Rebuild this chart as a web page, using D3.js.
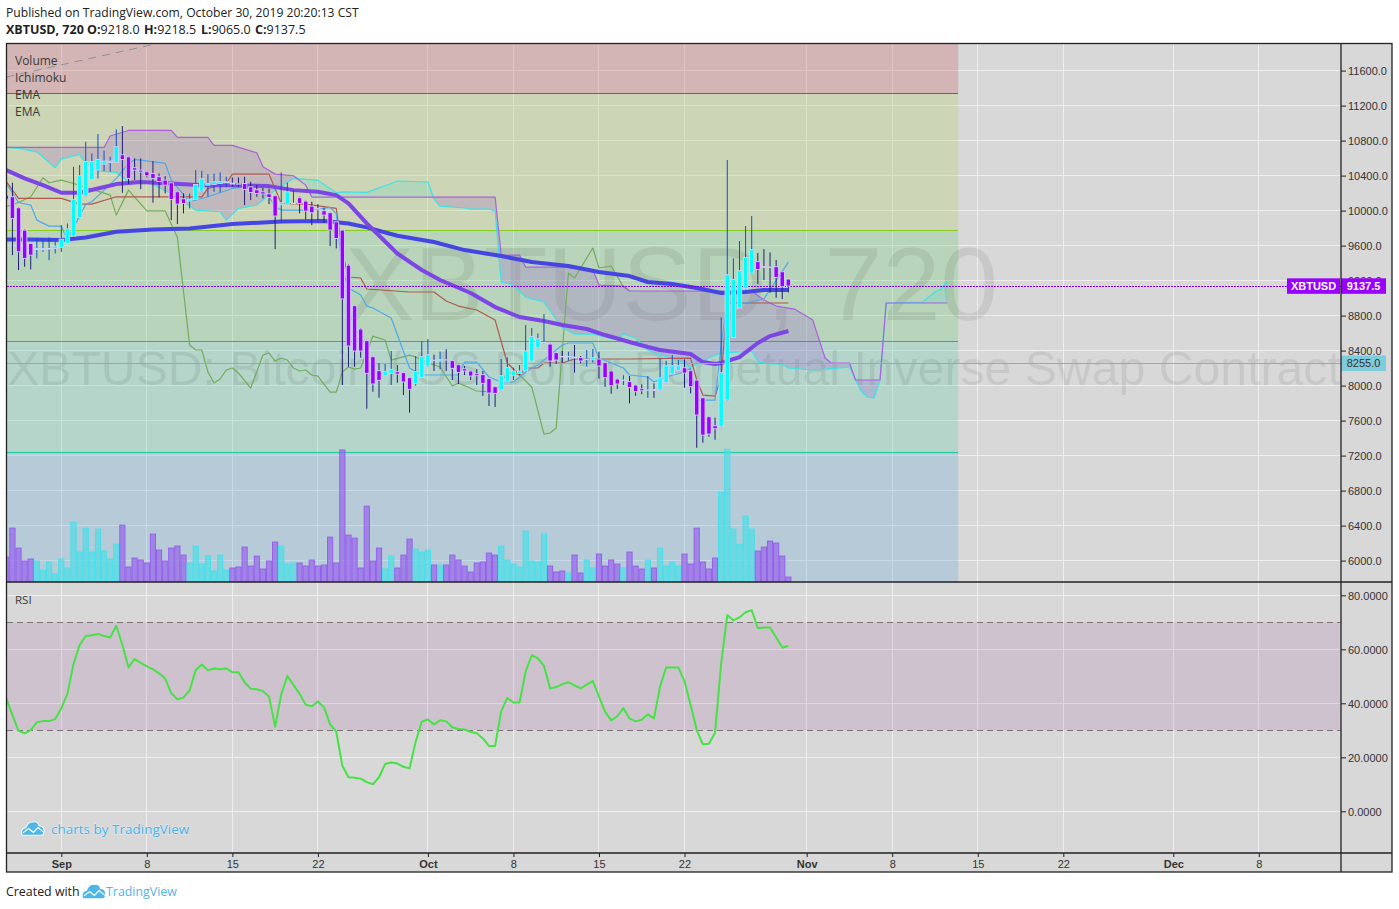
<!DOCTYPE html>
<html>
<head>
<meta charset="utf-8">
<title>XBTUSD, 720</title>
<script src="https://cdn.jsdelivr.net/npm/d3@7"></script>
<style>
html,body{margin:0;padding:0;background:#fff;}
svg{display:block;}
</style>
</head>
<body>
<div id="chart"></div>
<script>
//1. data (bar 0 is the half hidden candle at the left edge, one bar = 12h)
const opens=[
	10175,10158,10032,9777,9625,9556,9553,9560,9568,9579,
	9625,9709,9922,10166,10356,10463,10531,10551,10551,10638,
	10615,10490,10463,10444,10425,10387,10349,10318,10215,10135,
	10109,10128,10223,10291,10299,10310,10318,10314,10306,10310,
	10272,10238,10215,10192,10170,10067,10074,10080,10147,10109,
	10051,10025,9998,9975,9872,9777,9377,
	8913,8647,8513,8330,8170,8117,8140,8159,8148,8090,
	8022,8094,8224,8290,8281,8295,8285,8239,8193,8167,
	8136,8125,8079,7987,7949,8041,8117,8140,8167,8281,
	8433,8487,8475,8376,8332,8328,8326,8319,8298,8296,
	8304,8262,8167,8075,8058,8045,
	8006,7964,7947,7955,7949,8033,8132,8174,8204,8170,
	8063,7861,7644,7541,7530,7834,8551,8886,9107,9286,
	9416,9362,9356,9358,9301,9218
];
const highs=[
	10320,10318,10040,9785,9630,9682,9663,9693,9644,9834,
	9853,10501,10520,10787,10653,10874,10684,10615,10928,10966,
	10620,10596,10596,10450,10566,10425,10394,10325,10220,10196,
	10196,10463,10455,10417,10425,10436,10387,10379,10379,10387,
	10330,10291,10261,10253,10175,10436,10318,10234,10158,10115,
	10101,10074,10032,9980,9880,9780,9385,
	8920,8655,8520,8335,8254,8247,8395,8235,8155,8095,
	8338,8509,8532,8353,8388,8414,8290,8245,8224,8172,
	8189,8167,8085,7992,8304,8323,8205,8235,8692,8658,
	8597,8818,8480,8380,8395,8388,8464,8338,8407,8418,
	8388,8268,8172,8080,8117,8109,
	8010,8014,8109,8025,8311,8284,8349,8292,8299,8175,
	8068,7866,7650,7633,8779,10578,9454,9652,9823,9938,
	9515,9560,9522,9435,9305,9218.5
];
const lows=[
	9900,9491,9320,9358,9328,9453,9529,9434,9510,9529,
	9620,9700,9915,10160,10350,10368,10451,10444,10545,10204,
	10303,10349,10246,10379,10090,10150,10196,9891,9846,9968,
	10025,10120,10215,10158,10215,10208,10272,10272,10272,10063,
	10120,10158,10139,10074,9560,9861,10070,10074,9968,9899,
	9834,9891,9861,9594,9568,8007,8216,
	8216,8319,7736,7930,7862,8110,8007,8033,7892,7690,
	7999,8090,8216,8167,8186,8167,8064,8018,8121,8064,
	8007,7881,7767,7755,7945,8036,8064,8121,8160,8275,
	8428,8480,8216,8247,8262,8285,8148,8254,8216,8262,
	8079,7987,7907,7961,8007,7797,
	7884,7903,7861,7861,7945,8028,8128,8170,7975,7911,
	7290,7347,7415,7381,7525,7828,8546,8880,9100,9280,
	9160,9206,9061,9004,8989,9065
];
const closes=[
	10130,9910,9529,9453,9491,9568,9568,9568,9594,9674,
	9792,10128,10398,10562,10562,10585,10566,10566,10730,10585,
	10368,10463,10440,10398,10368,10333,10291,10128,10074,10082,
	10131,10299,10364,10310,10330,10330,10330,10303,10302,10242,
	10208,10196,10189,10150,9937,10090,10215,10085,10082,9994,
	9975,10010,9949,9777,9682,8990,8452,
	8395,8395,8140,8018,8060,8163,8186,8132,8041,7957,
	8159,8330,8353,8288,8296,8292,8197,8151,8167,8109,
	8113,8026,7915,7911,8113,8205,8167,8167,8395,8563,
	8536,8494,8281,8292,8328,8332,8316,8281,8302,8319,
	8224,8090,7999,8018,8063,7976,
	7930,7941,7950,7945,8090,8227,8227,8227,8143,7987,
	7663,7434,7446,7507,8147,9267,9214,9313,9465,9553,
	9328,9350,9350,9237,9130,9137.5
];
const volumes=[
	75,162,102,63,69,63,36,60,24,69,
	42,180,90,162,90,159,93,69,114,171,
	45,72,66,57,144,96,63,102,108,81,
	57,108,54,78,33,81,36,42,45,105,
	48,78,39,63,120,108,54,57,57,48,
	66,48,51,135,57,397,141,132,42,228,
	63,102,39,78,42,81,129,99,90,96,
	51,51,51,81,66,48,30,57,60,87,
	81,108,66,54,45,153,63,60,144,48,
	30,33,27,81,27,66,42,84,48,66,
	54,42,90,48,39,66,42,102,48,60,
	48,84,54,162,60,39,72,270,399,159,
	114,198,159,93,105,123,117,78,15
];
const rsiValues=[
	41.8,35.6,29.8,28.9,30.1,33.0,33.4,33.4,34.2,38.1,
	43.5,54.5,61.6,64.9,65.2,65.7,64.9,64.4,68.7,61.6,
	53.3,56.4,55.0,53.7,52.6,51.1,49.2,43.7,41.5,42.1,
	44.8,52.3,54.4,52.2,52.9,52.6,52.9,51.5,51.5,47.8,
	45.4,45.2,44.5,42.5,31.3,43.3,50.1,46.8,43.5,39.5,
	38.9,40.7,38.5,32.2,29.5,16.9,12.6,12.4,12.1,10.8,
	10.0,12.6,17.5,18.1,17.7,16.5,15.9,25.8,33.2,34.0,
	32.2,33.7,33.3,31.1,30.5,30.3,29.4,28.9,27.0,24.2,
	24.2,37.1,42.0,40.3,40.3,51.7,57.8,56.6,53.9,45.5,
	46.0,47.1,47.8,46.6,45.5,46.9,48.2,42.5,36.9,33.7,
	35.2,38.2,34.4,33.3,33.9,35.9,34.4,46.2,53.3,53.3,
	53.3,48.2,39.4,30.1,24.8,25.0,29.1,54.8,72.7,70.7,
	71.8,73.7,74.5,67.8,68.1,68.1,64.4,60.7,61.2
];

//indicator lines: [bar, price] at the places where the line bends
const emaFast=[[0,10463],[3,10368],[6,10291],[9,10204],[12,10204],[15,10253],[18,10303],[22,10326],[27,10310],[32,10291],[37,10291],[43,10280],[47,10234],[51,10215],[54,10177],[56,10082],[59,9853],[64,9510],[68,9321],[71,9207],[76,9058],[80,8898],[84,8784],[88,8738],[91,8692],[95,8647],[98,8578],[102,8498],[105,8441],[107,8407],[112,8361],[114,8269],[116,8247],[117,8258],[120,8326],[123,8487],[125,8566],[128,8624]];
const emaSlow=[[0,9670],[4,9670],[9,9663],[13,9693],[18,9758],[24,9785],[30,9796],[37,9846],[45,9876],[52,9880],[56,9853],[59,9808],[64,9713],[70,9641],[75,9549],[81,9481],[86,9412],[92,9367],[97,9298],[102,9252],[105,9184],[109,9161],[113,9115],[117,9058],[121,9070],[124,9092],[128,9092]];
const tenkan=[[0,10310],[2,10093],[4,10063],[5,9891],[7,9823],[9,9823],[10,9663],[13,10074],[14,10101],[16,10234],[18,10368],[20,10539],[21,10585],[26,10539],[27,10349],[30,10101],[33,10158],[37,10253],[39,10272],[43,10158],[44,10044],[45,10006],[50,10006],[53,10036],[54,9968],[55,9321],[56,9115],[58,9035],[59,8909],[60,8887],[63,8772],[66,8201],[68,8121],[74,8121],[75,8269],[77,8269],[79,8098],[81,8041],[83,8041],[85,8155],[87,8235],[91,8464],[92,8487],[96,8487],[97,8315],[101,8201],[102,8121],[105,8098],[106,8041],[108,8098],[111,8155],[112,8201],[113,7835],[116,7835],[117,8464],[118,8944],[121,8944],[124,8990],[128,9412]];
const kijun=[[0,10330],[2,10139],[9,10139],[12,10074],[14,10074],[18,10158],[26,10158],[32,10158],[33,10253],[36,10310],[37,10417],[43,10417],[45,10082],[49,10074],[54,10025],[55,9515],[56,9241],[58,9230],[59,9104],[66,9070],[70,9070],[72,8967],[74,8909],[77,8864],[80,8749],[82,8258],[84,8121],[85,8201],[87,8201],[88,8258],[91,8258],[93,8304],[102,8304],[112,8315],[113,8064],[114,7892],[116,7880],[117,8098],[118,8944],[128,8944]];
const chikou=[[0,10044],[2,10093],[4,10158],[6,10375],[7,10318],[9,10349],[11,10310],[15,10223],[17,10177],[18,9949],[20,10234],[23,9998],[26,9998],[28,9693],[30,8464],[31,8407],[32,8407],[33,8155],[34,8029],[35,8075],[36,8178],[37,8201],[38,8144],[40,7972],[42,8349],[43,8372],[44,8281],[45,8315],[46,8292],[47,8201],[48,8167],[49,8178],[50,8121],[51,8109],[53,7926],[54,7926],[55,8155],[56,8212],[57,8189],[58,8201],[60,8566],[62,8521],[63,8292],[66,8349],[67,8327],[69,8258],[71,8212],[73,7995],[74,8029],[77,7938],[80,7926],[81,8029],[82,8155],[84,8121],[86,7984],[88,7446],[89,7458],[90,7515],[92,9287],[93,9230],[96,9572],[97,9344],[99,9367],[101,9127],[102,9081]];
const spanA=[[0,10722],[2,10711],[5,10672],[8,10490],[9,10589],[12,10642],[13,10539],[15,10455],[18,10436],[20,10330],[23,10330],[27,10196],[31,10006],[35,9987],[36,9891],[38,10025],[41,10063],[44,10234],[47,10368],[51,10345],[54,10204],[55,10215],[59,10208],[63,10310],[64,10338],[69,10327],[70,10132],[71,10052],[75,10030],[76,10018],[79,10018],[80,9995],[81,9184],[83,9149],[85,9012],[88,8955],[91,8658],[93,8589],[96,8589],[100,8521],[101,8589],[103,8544],[105,8407],[106,8372],[110,8292],[112,8212],[115,8315],[117,8372],[122,8395],[123,8269],[125,8247],[127,8247],[128,8201],[132,8178],[134,8189],[138,8212],[139,8064],[140,7927],[141,7869],[142,7858],[143,8064],[144,8944],[150,8955],[152,9069],[153,9104],[154,9184]];
const spanB=[[0,10722],[16,10722],[17,10852],[20,10916],[27,10916],[28,10836],[33,10836],[34,10745],[37,10745],[41,10661],[42,10501],[44,10417],[47,10398],[49,10291],[50,10155],[80,10155],[81,9492],[84,9492],[85,9355],[91,9355],[96,9321],[97,9149],[101,9138],[102,9081],[122,9080],[124,8978],[126,8909],[129,8875],[132,8749],[134,8315],[135,8258],[138,8258],[139,8064],[143,8064],[144,8944],[154,8944]];
const trendLine=[[0,11527],[24,11898]];

//fib levels and shaded bands
const fibLevels=[11340,9772,8506,7238];
const fibLineColors=["#b0493d","#86cc20","#35bb45","#20c89c"];
const fibBandColors=["rgb(203,99,99)","rgb(176,206,99)","rgb(110,203,116)","rgb(99,203,169)","rgb(103,173,213)"];
const fibEndBar=155.8;

const priceTicks=[11600,11200,10800,10400,10000,9600,9200,8800,8400,8000,7600,7200,6800,6400,6000];
const rsiTicks=[80,60,40,20,0];
const rsiBand=[70,30];
const timeTickBars=[9,23,37,51,69,83,97,111,131,145,159,173,191,205];
const timeTickLabels=["Sep","8","15","22","Oct","8","15","22","Nov","8","15","22","Dec","8"];
const lastPrice=9137.5;
const indexPrice=8255;
const legendNames=["Volume","Ichimoku","EMA","EMA"];

//2. layout
const width=1399,height=909;
const paneLeft=6.5,paneRight=1341,outerRight=1392;
const mainTop=43.5,mainBottom=582,rsiBottom=853,timeBottom=872;
const uiFont="'Open Sans',sans-serif";
const axisFont="'Liberation Sans',Arial,sans-serif";

const svg=d3.select("#chart").append("svg")
	.attr("width",width)
	.attr("height",height)
	.attr("viewBox","0 0 "+width+" "+height);

const x=d3.scaleLinear().domain([0,218.45]).range([6.31,paneRight]);
const yPrice=d3.scaleLinear().domain([8000,11600]).range([385.6,70.6]);
const yVolume=d3.scaleLinear().domain([0,400]).range([mainBottom,mainBottom-133]);
const yRsi=d3.scaleLinear().domain([0,80]).range([811.3,595.3]);

const defs=svg.append("defs");
defs.append("clipPath").attr("id","mainClip").append("rect")
	.attr("x",paneLeft).attr("y",mainTop).attr("width",paneRight-paneLeft).attr("height",mainBottom-mainTop);
defs.append("clipPath").attr("id","rsiClip").append("rect")
	.attr("x",paneLeft).attr("y",mainBottom).attr("width",paneRight-paneLeft).attr("height",rsiBottom-mainBottom);

//pane background
svg.append("rect")
	.attr("x",paneLeft).attr("y",mainTop)
	.attr("width",outerRight-paneLeft).attr("height",timeBottom-mainTop)
	.attr("fill","#d8d8d8");

//grid
const grid=svg.append("g").attr("stroke","#eeeeee").attr("stroke-width",1).attr("shape-rendering","crispEdges");
grid.selectAll(".gx").data(timeTickBars).enter().append("line")
	.attr("x1",function(d){return x(d);}).attr("x2",function(d){return x(d);})
	.attr("y1",mainTop).attr("y2",rsiBottom);
grid.selectAll(".gy").data(priceTicks).enter().append("line")
	.attr("x1",paneLeft).attr("x2",paneRight)
	.attr("y1",function(d){return yPrice(d);}).attr("y2",function(d){return yPrice(d);});
grid.selectAll(".gr").data(rsiTicks).enter().append("line")
	.attr("x1",paneLeft).attr("x2",paneRight)
	.attr("y1",function(d){return yRsi(d);}).attr("y2",function(d){return yRsi(d);});

const main=svg.append("g").attr("clip-path","url(#mainClip)");

//fib bands
const bandEdges=[mainTop].concat(fibLevels.map(function(d){return yPrice(d);}),[mainBottom]);
main.selectAll(".band").data(fibBandColors).enter().append("rect")
	.attr("x",paneLeft)
	.attr("width",x(fibEndBar)-paneLeft)
	.attr("y",function(d,i){return bandEdges[i];})
	.attr("height",function(d,i){return bandEdges[i+1]-bandEdges[i];})
	.attr("fill",function(d){return d;})
	.attr("fill-opacity",0.3);
main.selectAll(".fib").data(fibLevels).enter().append("line")
	.attr("x1",paneLeft).attr("x2",x(fibEndBar))
	.attr("y1",function(d){return yPrice(d);}).attr("y2",function(d){return yPrice(d);})
	.attr("stroke",function(d,i){return fibLineColors[i];})
	.attr("stroke-width",1)
	.attr("shape-rendering","crispEdges");

//watermarks
main.append("text")
	.attr("x",671.5).attr("y",320)
	.attr("text-anchor","middle")
	.attr("font-family",axisFont).attr("font-size",104)
	.attr("fill","#000").attr("fill-opacity",0.07)
	.text("XBTUSD, 720");
main.append("text")
	.attr("x",674).attr("y",385)
	.attr("text-anchor","middle")
	.attr("font-family",axisFont).attr("font-size",48.2)
	.attr("fill","#000").attr("fill-opacity",0.07)
	.text("XBTUSD: Bitcoin / US Dollar Perpetual Inverse Swap Contract");

//volume
function isUp(i){
	return closes[i]>=opens[i];
}
main.selectAll(".vol").data(volumes).enter().append("rect")
	.attr("x",function(d,i){return x(i)-2.6;})
	.attr("width",5.2)
	.attr("y",function(d){return yVolume(d);})
	.attr("height",function(d){return mainBottom-yVolume(d);})
	.attr("fill",function(d,i){return isUp(i)?"rgba(70,222,232,0.65)":"rgba(145,85,238,0.6)";})
	.attr("stroke",function(d,i){return isUp(i)?"#45e2ec":"#9760ec";})
	.attr("stroke-width",1);

//ichimoku cloud, both spans read at every bar only for the fill
const cloudBars=d3.range(0,155);
const spanAAt=d3.scaleLinear().domain(spanA.map(function(d){return d[0];})).range(spanA.map(function(d){return d[1];}));
const spanBAt=d3.scaleLinear().domain(spanB.map(function(d){return d[0];})).range(spanB.map(function(d){return d[1];}));
const cloudUp=d3.area()
	.x(function(d){return x(d);})
	.y0(function(d){return yPrice(spanBAt(d));})
	.y1(function(d){return yPrice(Math.max(spanAAt(d),spanBAt(d)));});
const cloudDown=d3.area()
	.x(function(d){return x(d);})
	.y0(function(d){return yPrice(spanBAt(d));})
	.y1(function(d){return yPrice(Math.min(spanAAt(d),spanBAt(d)));});
main.append("path").attr("d",cloudUp(cloudBars)).attr("fill","rgb(0,225,225)").attr("fill-opacity",0.13);
main.append("path").attr("d",cloudDown(cloudBars)).attr("fill","rgb(150,70,220)").attr("fill-opacity",0.2);

const priceLine=d3.line()
	.x(function(d){return x(d[0]);})
	.y(function(d){return yPrice(d[1]);});
function drawLine(data,color,lineWidth,dash){
	main.append("path")
		.attr("d",priceLine(data))
		.attr("fill","none")
		.attr("stroke",color)
		.attr("stroke-width",lineWidth)
		.attr("stroke-dasharray",dash||null)
		.attr("stroke-linejoin","round");
}
drawLine(trendLine,"#909090",1,"8 6");
drawLine(chikou,"#72ad5c",1.2);
drawLine(spanA,"#3fe2e6",1.2);
drawLine(spanB,"#ad5fe0",1.2);
drawLine(kijun,"#ad5a4e",1.2);
drawLine(tenkan,"#4ea9ea",1.2);
drawLine(emaSlow,"#4545e2",4);
drawLine(emaFast,"#7c46e6",4);

//price lines
main.append("line")
	.attr("x1",paneLeft).attr("x2",paneRight)
	.attr("y1",yPrice(indexPrice)).attr("y2",yPrice(indexPrice))
	.attr("stroke","#66bccc").attr("stroke-width",1)
	.attr("shape-rendering","crispEdges");
main.append("line")
	.attr("x1",paneLeft).attr("x2",paneRight)
	.attr("y1",yPrice(lastPrice)).attr("y2",yPrice(lastPrice))
	.attr("stroke","#8000e0").attr("stroke-width",1)
	.attr("stroke-dasharray","2 1")
	.attr("shape-rendering","crispEdges");

//candles
const candles=main.selectAll(".candle").data(opens).enter().append("g");
candles.append("line")
	.attr("x1",function(d,i){return x(i);}).attr("x2",function(d,i){return x(i);})
	.attr("y1",function(d,i){return yPrice(highs[i]);})
	.attr("y2",function(d,i){return yPrice(lows[i]);})
	.attr("stroke",function(d,i){return isUp(i)?"#0d50c8":"#1f1f78";})
	.attr("stroke-width",1);
candles.append("rect")
	.attr("x",function(d,i){return x(i)-2.2;})
	.attr("width",4.4)
	.attr("y",function(d,i){return yPrice(Math.max(opens[i],closes[i]));})
	.attr("height",function(d,i){return Math.abs(yPrice(opens[i])-yPrice(closes[i]));})
	.attr("fill",function(d,i){return isUp(i)?"#00ffff":"#9900ff";})
	.attr("stroke","#d4d4f4")
	.attr("stroke-width",0.9);

//RSI pane
const rsi=svg.append("g").attr("clip-path","url(#rsiClip)");
rsi.append("rect")
	.attr("x",paneLeft).attr("width",paneRight-paneLeft)
	.attr("y",yRsi(rsiBand[0])).attr("height",yRsi(rsiBand[1])-yRsi(rsiBand[0]))
	.attr("fill","rgb(128,0,128)").attr("fill-opacity",0.1);
rsi.selectAll(".rb").data(rsiBand).enter().append("line")
	.attr("x1",paneLeft).attr("x2",paneRight)
	.attr("y1",function(d){return yRsi(d);}).attr("y2",function(d){return yRsi(d);})
	.attr("stroke","#7c7478").attr("stroke-width",1)
	.attr("stroke-dasharray","6 4")
	.attr("shape-rendering","crispEdges");
rsi.append("path")
	.attr("d",d3.line().x(function(d,i){return x(i);}).y(function(d){return yRsi(d);})(rsiValues))
	.attr("fill","none")
	.attr("stroke","#46e246")
	.attr("stroke-width",2)
	.attr("stroke-linejoin","round");

//axes
function styleAxis(g){
	g.select(".domain").remove();
	g.selectAll("line").attr("stroke","#222");
	g.selectAll("text").attr("fill","#333").attr("font-family",axisFont).attr("font-size",11);
}
svg.append("g")
	.attr("transform","translate("+paneRight+",0)")
	.call(d3.axisRight(yPrice).tickValues(priceTicks).tickFormat(d3.format(".1f")).tickSize(5).tickPadding(2))
	.call(styleAxis);
const rsiAxis=svg.append("g")
	.attr("transform","translate("+paneRight+",0)")
	.call(d3.axisRight(yRsi).tickValues(rsiTicks).tickFormat(d3.format(".4f")).tickSize(5).tickPadding(2))
	.call(styleAxis);
rsiAxis.selectAll("text").attr("dy","0.41em");
const timeAxis=svg.append("g")
	.attr("transform","translate(0,"+rsiBottom+")")
	.call(d3.axisBottom(x).tickValues(timeTickBars).tickFormat(function(d,i){return timeTickLabels[i];}).tickSize(4).tickPadding(3))
	.call(styleAxis);
timeAxis.selectAll("text")
	.attr("font-weight",function(d,i){return isNaN(+timeTickLabels[i])?"bold":"normal";});

//last price and index price labels
const labelH=15.5;
function priceBox(x0,x1,price,color,textColor,label,bold){
	svg.append("rect")
		.attr("x",x0).attr("width",x1-x0)
		.attr("y",yPrice(price)-labelH/2).attr("height",labelH)
		.attr("fill",color);
	svg.append("text")
		.attr("x",(x0+x1)/2).attr("y",yPrice(price)+4)
		.attr("text-anchor","middle")
		.attr("font-family",axisFont).attr("font-size",11)
		.attr("font-weight",bold?"bold":"normal")
		.attr("fill",textColor)
		.text(label);
}
priceBox(1287,1340,lastPrice,"#9900ff","#fff","XBTUSD",true);
priceBox(1341,1386,lastPrice,"#9900ff","#fff",d3.format(".1f")(lastPrice),true);
priceBox(1341,1386,indexPrice,"#7ecbdc","#333",d3.format(".1f")(indexPrice),false);

//frame
const frame=svg.append("g").attr("stroke","#222").attr("stroke-width",1.3).attr("fill","none");
frame.append("rect")
	.attr("x",paneLeft).attr("y",mainTop)
	.attr("width",outerRight-paneLeft).attr("height",timeBottom-mainTop);
frame.append("line").attr("x1",paneLeft).attr("x2",outerRight).attr("y1",mainBottom).attr("y2",mainBottom);
frame.append("line").attr("x1",paneLeft).attr("x2",outerRight).attr("y1",rsiBottom).attr("y2",rsiBottom);
frame.append("line").attr("x1",paneRight).attr("x2",paneRight).attr("y1",mainTop).attr("y2",timeBottom);

//pane legends
svg.selectAll(".legend").data(legendNames).enter().append("text")
	.attr("x",15)
	.attr("y",function(d,i){return 65+i*17;})
	.attr("font-family",uiFont).attr("font-size",12)
	.attr("fill","#3a3a3a")
	.text(function(d){return d;});
svg.append("text")
	.attr("x",15).attr("y",604)
	.attr("font-family",uiFont).attr("font-size",11.5)
	.attr("fill","#3a3a3a")
	.text("RSI");

//header
svg.append("text")
	.attr("x",6).attr("y",17)
	.attr("font-family",uiFont).attr("font-size",12.15)
	.attr("fill","#222")
	.text("Published on TradingView.com, October 30, 2019 20:20:13 CST");
const title=svg.append("text")
	.attr("y",34)
	.attr("font-family",uiFont).attr("font-size",12.5)
	.attr("fill","#222");
title.append("tspan").attr("x",6).attr("font-weight","bold").text("XBTUSD, 720");
title.append("tspan").attr("x",87).attr("font-weight","bold").text("O:");
title.append("tspan").text("9218.0");
title.append("tspan").attr("x",144).attr("font-weight","bold").text("H:");
title.append("tspan").text("9218.5");
title.append("tspan").attr("x",201).attr("font-weight","bold").text("L:");
title.append("tspan").text("9065.0");
title.append("tspan").attr("x",255).attr("font-weight","bold").text("C:");
title.append("tspan").text("9137.5");

//TradingView cloud logo
function drawLogo(px,py,scale,halo){
	let logo=svg.append("g").attr("transform","translate("+px+","+py+") scale("+scale+")");
	logo.append("path")
		.attr("d","M1,15 Q-1,8 5,7 Q8,0 13,1 Q18,0 19,5 Q26,6 24,13 Q24,15 21,15 Z")
		.attr("fill","#4fb6e8")
		.attr("stroke",halo?"#f0f6f9":"none")
		.attr("stroke-width",halo?1.2:0);
	logo.append("path")
		.attr("d","M2,12.5 L8,8 L13,12 L18,7 L24,12")
		.attr("fill","none")
		.attr("stroke","#fff")
		.attr("stroke-width",1.3);
}
drawLogo(21,821,0.95,true);
svg.append("text")
	.attr("x",51).attr("y",834)
	.attr("font-family",uiFont).attr("font-size",13.5)
	.attr("fill","#48b0e4")
	.attr("stroke","#e6f0f4").attr("stroke-width",0.8)
	.attr("paint-order","stroke")
	.text("charts by TradingView");
svg.append("text")
	.attr("x",6).attr("y",896)
	.attr("font-family",uiFont).attr("font-size",12.4)
	.attr("fill","#222")
	.text("Created with");
drawLogo(82,884,0.95,false);
svg.append("text")
	.attr("x",106).attr("y",896)
	.attr("font-family",uiFont).attr("font-size",12.4)
	.attr("fill","#52b5e6")
	.text("TradingView");
</script>
</body>
</html>
